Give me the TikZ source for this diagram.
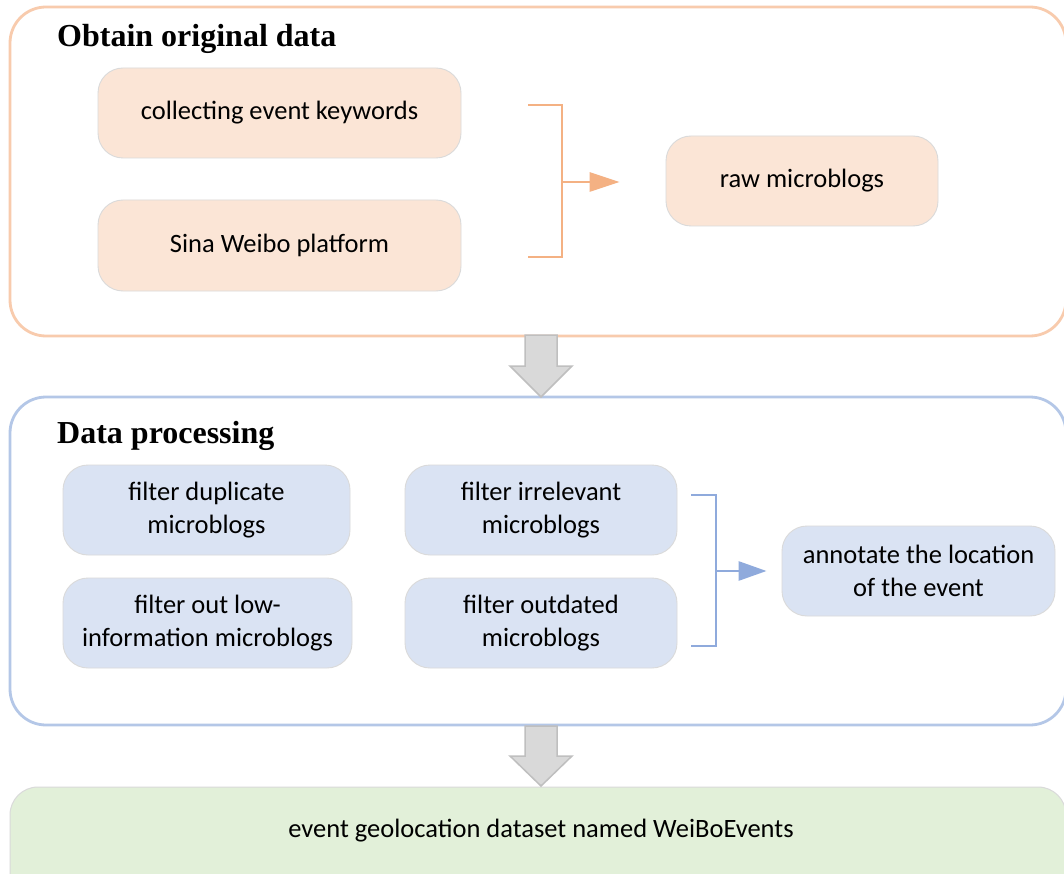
\documentclass[tikz,border=0pt]{standalone}
\usepackage{fontspec}
\usepackage{graphicx}
\usetikzlibrary{arrows.meta,calc}
\newfontfamily\boxfont{Carlito}
\newfontfamily\headfont{Liberation Serif}
\definecolor{ofill}{HTML}{FBE5D6}
\definecolor{oframe}{HTML}{F8CBAD}
\definecolor{oline}{HTML}{F4B183}
\definecolor{bfill}{HTML}{DAE3F3}
\definecolor{bframe}{HTML}{B4C7E7}
\definecolor{bline}{HTML}{8FAADC}
\definecolor{gfill}{HTML}{E2F0D9}
\definecolor{afill}{HTML}{D9D9D9}
\definecolor{aframe}{HTML}{BFBFBF}
\definecolor{boxedge}{HTML}{DADADA}
\tikzset{
  container/.style={draw, line width=2.8pt, rounded corners=36pt, inner sep=0pt},
  stepbox/.style={draw=boxedge, line width=0.9pt, rounded corners=25pt, inner sep=0pt,
    align=center, font=\boxfont\fontsize{26.5}{32.5}\selectfont, text=black},
  obox/.style={stepbox, fill=ofill},
  bbox/.style={stepbox, fill=bfill},
  headline/.style={anchor=base west, inner sep=0pt, font=\headfont\bfseries\fontsize{32}{38}\selectfont},
  bracketline/.style={line width=2.8pt},
  bigarrow/.style={fill=afill, draw=aframe, line width=1.5pt, line join=miter},
}
\begin{document}
\begin{tikzpicture}[x=1pt,y=-1pt]
\path[use as bounding box, clip] (0,0) rectangle (1064,874);
\fill[white] (0,0) rectangle (1064,874);

% containers
\node[container, draw=oframe, minimum width=1056pt, minimum height=329pt] (top) at (538,171.5) {};
\node[container, draw=bframe, minimum width=1056pt, minimum height=328pt] (mid) at (538,561) {};
\node[draw=boxedge, line width=1pt, fill=gfill, rounded corners=28pt, minimum width=1056pt, minimum height=130pt, inner sep=0pt] (res) at (538,852) {};
\node[font=\boxfont\fontsize{26.5}{32.5}\selectfont, text=black, inner sep=0pt] (restext) at (541,831) {event geolocation dataset named WeiBoEvents};

% titles
\node[headline] (t1) at (57,47) {Obtain original data};
\node[headline] (t2) at (57,443) {Data processing};

% top boxes
\node[obox, minimum width=363pt, minimum height=90pt] (kw) at (279.5,113) {collecting event keywords};
\node[obox, minimum width=363pt, minimum height=91pt] (sina) at (279.5,245.5) {Sina Weibo platform};
\node[obox, minimum width=272pt, minimum height=90pt] (raw) at (802,181) {raw microblogs};

% orange bracket
\coordinate (ob1) at (528,105);
\coordinate (ob2) at (528,257);
\coordinate (obv) at (562,182);
\draw[bracketline, draw=oline] (ob1) -| (obv) |- (ob2);
\draw[bracketline, draw=oline, -{Triangle[length=30pt,width=19pt]}, shorten >=46pt] (obv) -- (raw.west |- obv);

% middle boxes
\node[bbox, minimum width=287pt, minimum height=90pt] (dup) at (206.5,510) {filter duplicate\\microblogs};
\node[bbox, minimum width=289pt, minimum height=90pt] (low) at (207.5,623) {filter out low-\\information microblogs};
\node[bbox, minimum width=272pt, minimum height=90pt] (irr) at (541,510) {filter irrelevant\\microblogs};
\node[bbox, minimum width=272pt, minimum height=90pt] (out) at (541,623) {filter outdated\\microblogs};
\node[bbox, minimum width=273pt, minimum height=90pt] (ann) at (918.5,571) {annotate the location\\of the event};

% blue bracket
\coordinate (bb1) at (691,495);
\coordinate (bb2) at (691,646);
\coordinate (bbv) at (716,571);
\draw[bracketline, draw=bline] (bb1) -| (bbv) |- (bb2);
\draw[bracketline, draw=bline, -{Triangle[length=28pt,width=19pt]}, shorten >=15pt] (bbv) -- (ann.west |- bbv);

% big gray arrows
\draw[bigarrow] (525,335) -- (557,335) -- (557,366) -- (572,366) -- (541,397) -- (510,366) -- (525,366) -- cycle;
\draw[bigarrow] (525,726) -- (557,726) -- (557,756) -- (572,756) -- (541,786) -- (510,756) -- (525,756) -- cycle;
\end{tikzpicture}
\end{document}
